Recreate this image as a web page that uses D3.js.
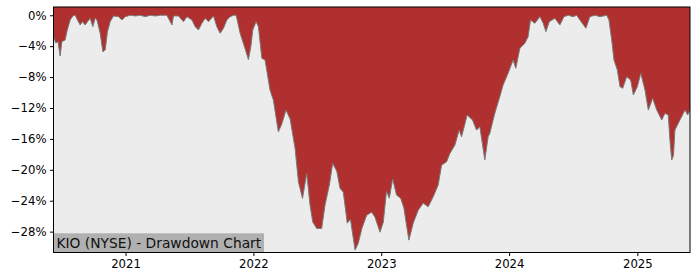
<!DOCTYPE html>
<html>
<head>
<meta charset="utf-8">
<script src="https://cdn.jsdelivr.net/npm/d3@7"></script>
<style>
  body { margin: 0; background: #fff; }
  svg text { font-family: "DejaVu Sans", sans-serif; }
</style>
</head>
<body>
<svg id="chart" width="700" height="280"></svg>
<script>
// Drawdown series: time as decimal year, drawdown in %
var years = [
  2020.438, 2020.455, 2020.473, 2020.490, 2020.503, 2020.529, 2020.542, 2020.568, 2020.589, 2020.607,
  2020.625, 2020.646, 2020.664, 2020.685, 2020.703, 2020.724, 2020.745, 2020.763, 2020.777, 2020.802,
  2020.823, 2020.841, 2020.859, 2020.880, 2020.906, 2020.945, 2020.972, 2020.998, 2021.037, 2021.076,
  2021.115, 2021.154, 2021.193, 2021.232, 2021.271, 2021.323, 2021.363, 2021.375, 2021.414, 2021.453,
  2021.480, 2021.519, 2021.545, 2021.570, 2021.597, 2021.623, 2021.648, 2021.688, 2021.714, 2021.740,
  2021.766, 2021.792, 2021.818, 2021.844, 2021.865, 2021.896, 2021.930, 2021.961, 2021.980, 2021.995,
  2022.021, 2022.039, 2022.066, 2022.091, 2022.130, 2022.156, 2022.195, 2022.222, 2022.255, 2022.287,
  2022.326, 2022.352, 2022.384, 2022.417, 2022.443, 2022.464, 2022.495, 2022.534, 2022.560, 2022.594,
  2022.620, 2022.652, 2022.677, 2022.703, 2022.734, 2022.759, 2022.795, 2022.820, 2022.849, 2022.886,
  2022.925, 2022.951, 2022.990, 2023.016, 2023.041, 2023.063, 2023.089, 2023.120, 2023.152, 2023.177,
  2023.216, 2023.250, 2023.289, 2023.328, 2023.367, 2023.406, 2023.445, 2023.472, 2023.511, 2023.537,
  2023.576, 2023.609, 2023.628, 2023.672, 2023.714, 2023.745, 2023.771, 2023.810, 2023.836, 2023.849,
  2023.888, 2023.927, 2023.953, 2023.992, 2024.031, 2024.052, 2024.084, 2024.123, 2024.148, 2024.167,
  2024.201, 2024.240, 2024.266, 2024.287, 2024.313, 2024.357, 2024.396, 2024.427, 2024.461, 2024.500,
  2024.527, 2024.552, 2024.599, 2024.630, 2024.670, 2024.709, 2024.761, 2024.779, 2024.800, 2024.818,
  2024.844, 2024.865, 2024.886, 2024.917, 2024.948, 2024.969, 2025.000, 2025.027, 2025.060, 2025.086,
  2025.120, 2025.152, 2025.191, 2025.216, 2025.242, 2025.255, 2025.269, 2025.283, 2025.294, 2025.333,
  2025.373, 2025.394, 2025.412
];
var drawdown = [
  -2.77, -3.59, -3.42, -5.27, -3.42, -3.20, -2.12, -0.61, -0.09, 0,
  -0.61, -1.26, -0.83, -1.26, -0.83, -0.39, -1.48, -0.39, -0.61, -2.33,
  -4.72, -4.49, -2.12, -0.83, -0.09, -0.18, -0.61, -0.18, 0, -0.09,
  0, -0.18, 0, -0.09, 0, 0, -1.26, -0.09, -0.09, -0.83,
  -0.18, -0.61, -1.48, -1.90, -1.04, -0.39, -0.83, -0.09, -1.48, -2.33,
  -1.68, -0.61, -0.18, 0, 0, -2.33, -4.07, -5.73, -4.07, -1.90,
  -0.83, -1.48, -5.57, -5.79, -9.68, -10.97, -15.08, -14.08, -12.27, -13.43,
  -17.23, -21.55, -23.70, -20.47, -24.57, -26.74, -27.59, -27.59, -24.57, -21.98,
  -19.17, -20.17, -22.37, -22.89, -26.90, -26.39, -30.40, -29.50, -27.55, -25.87,
  -25.48, -26.13, -28.07, -26.77, -22.76, -23.67, -21.20, -23.28, -23.67, -24.96,
  -29.10, -26.90, -25.22, -24.31, -24.79, -23.50, -21.98, -19.39, -18.96, -17.88,
  -16.80, -14.86, -15.73, -12.91, -13.56, -14.86, -14.43, -18.74, -15.73, -15.28,
  -12.69, -10.54, -9.03, -7.51, -5.79, -6.87, -4.27, -3.63, -2.77, -0.61,
  -1.04, -0.18, -1.04, -2.12, -0.83, -0.39, -1.26, -0.18, 0, -0.18,
  0, -0.61, -1.68, -0.18, 0, -0.18, 0, -0.61, -3.20, -5.79,
  -7.09, -9.25, -9.46, -7.95, -8.38, -10.32, -9.25, -7.51, -9.68, -12.27,
  -10.75, -12.27, -13.56, -12.69, -12.91, -16.15, -18.74, -18.10, -14.86, -13.56,
  -12.27, -12.91, -12.27
];
var yTicks = [0, -4, -8, -12, -16, -20, -24, -28];
var xTickYears = [2021, 2022, 2023, 2024, 2025];
var title = "KIO (NYSE) - Drawdown Chart";

function yearToDate(y) {
    var yr = Math.floor(y);
    var start = new Date(yr, 0, 1), end = new Date(yr + 1, 0, 1);
    return new Date(start.getTime() + (y - yr) * (end - start));
}

var data = years.map(function (y, i) {
    return { date: yearToDate(y), dd: drawdown[i] };
});

var svg = d3.select("#chart");
var plotLeft = 53.5, plotRight = 690, plotTop = 7, plotBottom = 252.5;

var xScale = d3.scaleTime()
    .domain([yearToDate(2020.438), yearToDate(2025.412)])
    .range([plotLeft, plotRight]);

var yScale = d3.scaleLinear()
    .domain([-30.7, 1.07])
    .range([plotBottom, plotTop]);

// background
svg.append("rect")
    .attr("x", plotLeft).attr("y", plotTop)
    .attr("width", plotRight - plotLeft).attr("height", plotBottom - plotTop)
    .attr("fill", "#ececec");

// red area from top of axes down to the drawdown
var area = d3.area()
    .x(function (d) { return xScale(d.date); })
    .y0(yScale(1.07))
    .y1(function (d) { return yScale(d.dd); });

svg.append("path")
    .datum(data)
    .attr("d", area)
    .attr("fill", "#b03030");

var line = d3.line()
    .x(function (d) { return xScale(d.date); })
    .y(function (d) { return yScale(d.dd); });

svg.append("path")
    .datum(data)
    .attr("d", line)
    .attr("fill", "none")
    .attr("stroke", "#7a7a7a")
    .attr("stroke-width", 1);

// axes
var yAxis = d3.axisLeft(yScale)
    .tickValues(yTicks)
    .tickSize(3.5)
    .tickPadding(3.5)
    .tickFormat(function (d) { return (d < 0 ? "\u2212" + (-d) : d) + "%"; });

var xAxis = d3.axisBottom(xScale)
    .tickValues(xTickYears.map(function (y) { return new Date(y, 0, 1); }))
    .tickSize(3.5)
    .tickPadding(3.5)
    .tickFormat(d3.timeFormat("%Y"));

var gy = svg.append("g")
    .attr("transform", "translate(" + plotLeft + ",0)")
    .call(yAxis);
var gx = svg.append("g")
    .attr("transform", "translate(0," + plotBottom + ")")
    .call(xAxis);

[gx, gy].forEach(function (g) {
    g.select(".domain").remove();
    g.selectAll("line").attr("stroke", "#000");
    g.selectAll("text")
        .attr("fill", "#000")
        .style("font-size", "11.7px");
});

// title box
svg.append("rect")
    .attr("x", plotLeft).attr("y", 233.3)
    .attr("width", 210.5).attr("height", plotBottom - 233.3)
    .attr("fill", "#b0b0b0");

svg.append("text")
    .attr("x", 56.5).attr("y", 247.5)
    .attr("fill", "#111")
    .style("font-size", "13.8px")
    .text(title);

// frame
svg.append("rect")
    .attr("x", plotLeft).attr("y", plotTop)
    .attr("width", plotRight - plotLeft).attr("height", plotBottom - plotTop)
    .attr("fill", "none")
    .attr("stroke", "#000")
    .attr("stroke-width", 1);
</script>
</body>
</html>
